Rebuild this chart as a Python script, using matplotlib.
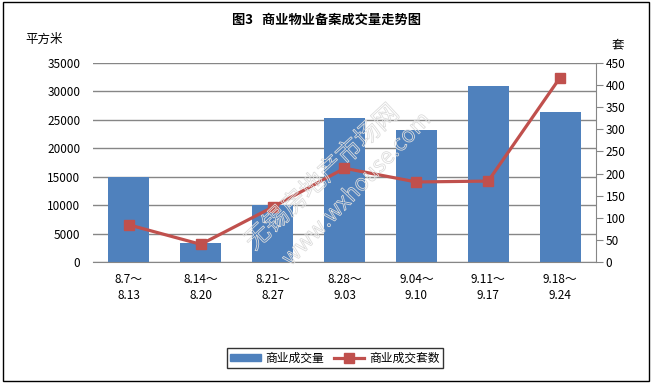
import numpy as np
import matplotlib
matplotlib.use("Agg")
import matplotlib.pyplot as plt
import matplotlib.patches as mpatches
import matplotlib.lines as mlines
import matplotlib.patheffects as pe

plt.rcParams['font.family'] = ['Noto Sans CJK SC', 'DejaVu Sans']

# data
weeks = ['8.7～\n8.13', '8.14～\n8.20', '8.21～\n8.27', '8.28～\n9.03',
         '9.04～\n9.10', '9.11～\n9.17', '9.18～\n9.24']
area = [15000, 3300, 9950, 25400, 23300, 31000, 26400]      # 商业成交量 (平方米)
units = [84, 40, 124, 212, 181, 183, 417]                   # 商业成交套数 (套)

bar_color = '#4F81BD'
line_color = '#C0504D'
grid_color = '#868686'

fig = plt.figure(figsize=(6.54, 3.86), dpi=100)
ax = fig.add_axes([0.1422, 0.3212, 0.7691, 0.5156])
ax2 = ax.twinx()

x = np.arange(len(weeks))
ax.bar(x, area, width=0.57, color=bar_color, zorder=2)
ax.set_xlim(-0.5, len(weeks) - 0.5)
ax.set_ylim(0, 35000)
ax.set_yticks(np.arange(0, 35001, 5000))
ax.yaxis.grid(True, color=grid_color, linewidth=1.0, zorder=0)
ax.set_axisbelow(True)
for s in ['top', 'left', 'right']:
    ax.spines[s].set_visible(False)
ax.spines['bottom'].set_color(grid_color)
ax.tick_params(axis='y', length=0, pad=9, labelsize=8.5)
ax.tick_params(axis='x', length=0, pad=8, labelsize=8.5)
ax.set_xticks(x)
ax.set_xticklabels(weeks, linespacing=1.25)

ax2.plot(x, units, color=line_color, linewidth=2.3, marker='s',
         markersize=7, markerfacecolor=line_color, markeredgecolor=line_color, zorder=3)
ax2.set_ylim(0, 450)
ax2.set_yticks(np.arange(0, 451, 50))
for s in ['top', 'left', 'bottom']:
    ax2.spines[s].set_visible(False)
ax2.spines['right'].set_color(grid_color)
ax2.tick_params(axis='y', length=5, color=grid_color, pad=2, labelsize=8.5)

# watermark
wm = [pe.withStroke(linewidth=0.6, foreground='#dcdcdc')]
fig.text(0.493, 0.54, '无锡房地产市场网', rotation=43, fontsize=18, ha='center', va='center',
         color=(1, 1, 1, 0), path_effects=wm)
fig.text(0.545, 0.51, 'www.wxhouse.com', rotation=46, fontsize=16, ha='center', va='center',
         color=(1, 1, 1, 0), path_effects=wm)

fig.text(0.5, 0.95, '图3   商业物业备案成交量走势图', ha='center', va='center',
         fontsize=9.5, fontweight='bold')
fig.text(0.038, 0.897, '平方米', ha='left', va='center', fontsize=9)
fig.text(0.944, 0.884, '套', ha='center', va='center', fontsize=9)

bar_leg = mpatches.Patch(color=bar_color, label='商业成交量')
line_leg = mlines.Line2D([], [], color=line_color, linewidth=2.3, marker='s', markersize=7,
                         label='商业成交套数')
leg = fig.legend(handles=[bar_leg, line_leg], loc='center', bbox_to_anchor=(0.512, 0.0725),
                 ncol=2, fontsize=8.5, frameon=True, fancybox=False, handlelength=2.6,
                 handleheight=0.5, columnspacing=0.8, handletextpad=0.4, borderpad=0.3)
leg.get_frame().set_edgecolor('black')
leg.get_frame().set_linewidth(1.0)

fig.patches.append(mpatches.Rectangle((0.005, 0.012), 0.988, 0.983, transform=fig.transFigure,
                                      fill=False, edgecolor='black', linewidth=1.0))

fig.savefig('out.png', dpi=100)
